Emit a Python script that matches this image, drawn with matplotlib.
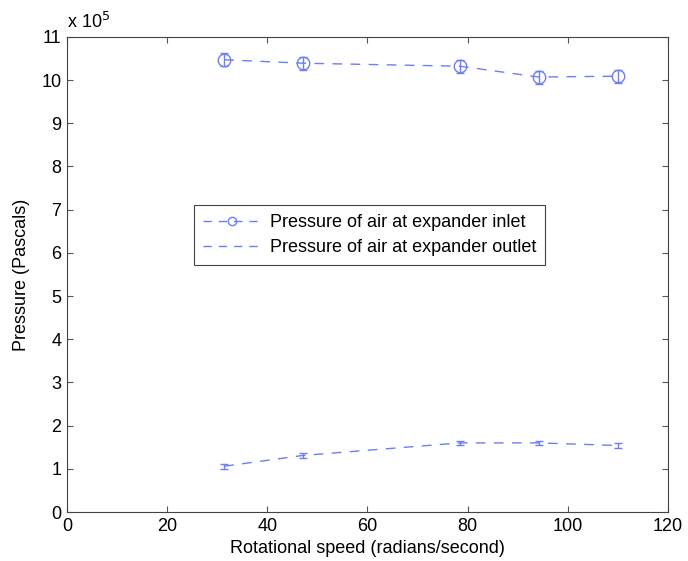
import matplotlib.pyplot as plt
from matplotlib.lines import Line2D
import numpy as np

plt.rcParams['font.family'] = ['Liberation Sans', 'DejaVu Sans']

# rotational speed (rad/s)
speed = [31.4, 47.1, 78.5, 94.2, 110.0]
# pressures in units of 1e5 Pa
p_inlet = [10.47, 10.39, 10.32, 10.07, 10.09]
err_inlet = [0.15, 0.15, 0.15, 0.15, 0.15]
p_outlet = [1.06, 1.31, 1.60, 1.60, 1.54]
err_outlet = [0.06, 0.06, 0.05, 0.04, 0.06]

col = '#6c7ef6'
fs = 13

fig = plt.figure(figsize=(6.88, 5.61), dpi=100)
ax = fig.add_axes([0.0974, 0.0873, 0.8735, 0.8470])

ax.errorbar(speed, p_inlet, yerr=err_inlet, color=col, ls='--', dashes=(7, 6),
            lw=1, marker='o', mfc='none', ms=9, capsize=3)
ax.errorbar(speed, p_outlet, yerr=err_outlet, color=col, ls='--', dashes=(7, 6),
            lw=1, capsize=3)

ax.set_xlim(0, 120)
ax.set_ylim(0, 11)
ax.set_xticks(np.arange(0, 121, 20))
ax.set_yticks(np.arange(0, 12, 1))
ax.tick_params(direction='in', top=True, right=True, labelsize=fs, length=4,
               color='#555555', pad=4)
for s in ax.spines.values():
    s.set_color('#444444')
ax.set_xlabel('Rotational speed (radians/second)', fontsize=fs, labelpad=4)
ax.set_ylabel('Pressure (Pascals)', fontsize=fs, labelpad=8)
ax.text(0.0, 1.01, r'x 10$^5$', transform=ax.transAxes, fontsize=fs, va='bottom')

handles = [
    Line2D([], [], color=col, ls='--', dashes=(6, 5), lw=1, marker='o', mfc='none', ms=6),
    Line2D([], [], color=col, ls='--', dashes=(6, 5), lw=1),
]
labels = ['Pressure of air at expander inlet', 'Pressure of air at expander outlet']
leg = ax.legend(handles, labels, loc='center', bbox_to_anchor=(0.503, 0.583), fontsize=fs,
                fancybox=False, edgecolor='#444444', framealpha=1,
                handlelength=3.3, handletextpad=0.4, borderpad=0.5, labelspacing=0.45,
                borderaxespad=0)
leg.get_frame().set_linewidth(0.8)

fig.savefig('out.png', dpi=100)
